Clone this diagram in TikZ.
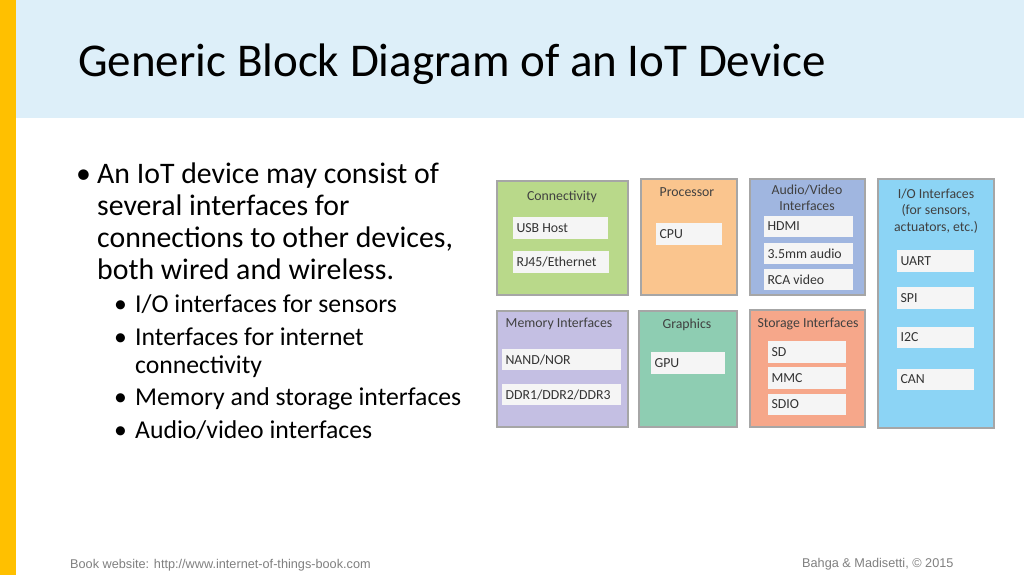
\documentclass[tikz,border=0pt]{standalone}
\usepackage{fontspec}
\setmainfont{Carlito}
\newfontfamily\foot{Liberation Sans}
\begin{document}
\begin{tikzpicture}[x=1pt,y=-1pt,
  outer/.style={draw=gray!70,line width=1.2pt},
  lab/.style={font=\fontsize{13.8}{16}\selectfont,text=black!80,anchor=west},
  hd/.style={font=\fontsize{13.8}{16}\selectfont,text=black!75,align=center},
  tx/.style={anchor=base west,inner sep=0pt,text=black}]
\useasboundingbox (0,0) rectangle (1024,575);
\fill[white] (0,0) rectangle (1024,575);
\fill[fill={rgb,255:red,221;green,239;blue,249}] (16,0) rectangle (1024,118);
\fill[fill={rgb,255:red,255;green,192;blue,0}] (0,0) rectangle (16,575);
\node[tx,font=\fontsize{47}{52}\selectfont] (title) at (78,77) {Generic Block Diagram of an IoT Device};
% bullets
\begin{scope}[font=\fontsize{29.8}{34}\selectfont]
\node[tx] (b1) at (76,183) {•};
\node[tx] (t1) at (97,183) {An IoT device may consist of};
\node[tx] (t2) at (97,215) {several interfaces for};
\node[tx] (t3) at (97,247) {connections to other devices,};
\node[tx] (t4) at (97,279) {both wired and wireless.};
\end{scope}
\begin{scope}[font=\fontsize{25.7}{30}\selectfont]
\node[tx] (s1b) at (114,312) {•}; \node[tx] (s1) at (135,312) {I/O interfaces for sensors};
\node[tx] (s2b) at (114,345) {•}; \node[tx] (s2) at (135,345) {Interfaces for internet};
\node[tx] (s2c) at (135,373) {connectivity};
\node[tx] (s3b) at (114,405) {•}; \node[tx] (s3) at (135,405) {Memory and storage interfaces};
\node[tx] (s4b) at (114,438) {•}; \node[tx] (s4) at (135,438) {Audio/video interfaces};
\end{scope}
% outer boxes
\filldraw[outer,fill={rgb,255:red,185;green,217;blue,138}] (497,181) rectangle (628,295);
\filldraw[outer,fill={rgb,255:red,250;green,197;blue,142}] (641,179) rectangle (737,295);
\filldraw[outer,fill={rgb,255:red,160;green,182;blue,224}] (750,179) rectangle (865,295);
\filldraw[outer,fill={rgb,255:red,140;green,212;blue,245}] (878,179) rectangle (994,428);
\filldraw[outer,fill={rgb,255:red,196;green,191;blue,227}] (497,311) rectangle (628,427);
\filldraw[outer,fill={rgb,255:red,142;green,205;blue,178}] (639,311) rectangle (737,427);
\filldraw[outer,fill={rgb,255:red,246;green,167;blue,138}] (750,310) rectangle (865,427);
% headers
\node[hd] (hconn) at (562,197) {Connectivity};
\node[hd] (hproc) at (687,192) {Processor};
\node[hd,font=\fontsize{13.8}{16.5}\selectfont] (hav) at (807,198) {Audio/Video\\Interfaces};
\node[hd,font=\fontsize{13.8}{16.5}\selectfont] (hio) at (936,211) {I/O Interfaces\\(for sensors,\\actuators, etc.)};
\node[hd] (hmem) at (559,324) {Memory Interfaces};
\node[hd] (hgfx) at (687,325) {Graphics};
\node[hd] (hsto) at (808,324) {Storage Interfaces};
% inner boxes
\newcommand{\ib}[6]{\fill[gray!8] (#2,#3) rectangle (#4,#5); \node[lab] (#1) at (#2,{(#3+#5)/2}) {#6};}
\ib{usb}{513}{217}{608}{239}{USB Host}
\ib{rj}{513}{251}{609}{273}{RJ45/Ethernet}
\ib{cpu}{656}{223}{722}{245}{CPU}
\ib{hdmi}{764}{216}{853}{237}{HDMI}
\ib{aud}{764}{243}{853}{264}{3.5mm audio}
\ib{rca}{764}{269}{853}{290}{RCA video}
\ib{uart}{897}{250}{974}{272}{UART}
\ib{spi}{897}{287}{974}{309}{SPI}
\ib{i2c}{897}{327}{974}{348}{I2C}
\ib{can}{897}{369}{974}{390}{CAN}
\ib{nand}{502}{349}{621}{370}{NAND/NOR}
\ib{ddr}{502}{384}{621}{405}{DDR1/DDR2/DDR3}
\ib{gpu}{651}{352}{725}{374}{GPU}
\ib{sd}{768}{341}{846}{363}{SD}
\ib{mmc}{768}{367}{846}{389}{MMC}
\ib{sdio}{768}{394}{846}{415}{SDIO}
% footer
\node[tx,font=\foot\fontsize{12.7}{14}\selectfont,text=gray] (fl) at (70,568) {Book website: http://www.internet-of-things-book.com};
\node[tx,font=\foot\fontsize{12.7}{14}\selectfont,text=gray] (fr) at (802,567) {Bahga \& Madisetti, © 2015};
\end{tikzpicture}
\end{document}
